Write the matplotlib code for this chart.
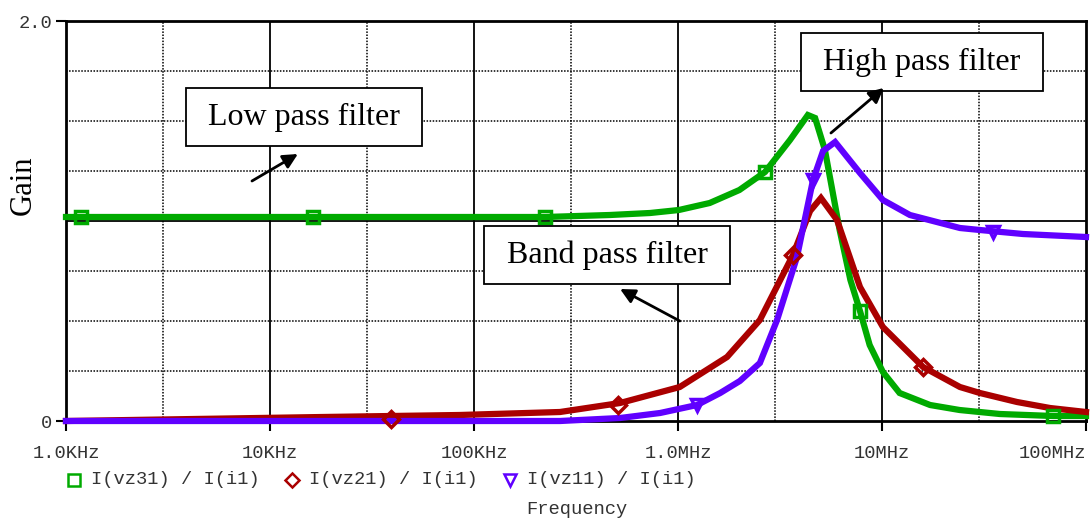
import numpy as np
import matplotlib.pyplot as plt
from matplotlib.lines import Line2D
from matplotlib.ticker import NullLocator

# traces: frequency (Hz) / gain
green_f = [1e3, 2.23e5, 4.64e5, 7.3e5, 1.01e6, 1.43e6, 2.0e6, 2.67e6, 3.54e6,
           4.33e6, 4.7e6, 5.25e6, 6.2e6, 7.0e6, 7.8e6, 8.7e6, 1.01e7, 1.22e7,
           1.72e7, 2.4e7, 3.78e7, 6.9e7, 1e8]
green_g = [1.02, 1.02, 1.03, 1.04, 1.055, 1.09, 1.155, 1.245, 1.405,
           1.53, 1.515, 1.355, 0.955, 0.705, 0.55, 0.38, 0.245, 0.14,
           0.08, 0.055, 0.035, 0.025, 0.025]

red_f = [1e3, 1.82e4, 8.5e4, 2.64e5, 5.2e5, 1.02e6, 1.74e6, 2.52e6, 3.66e6,
         4.44e6, 5.02e6, 6.02e6, 7.8e6, 1.01e7, 1.59e7, 2.41e7, 3.02e7,
         4.59e7, 6.66e7, 1e8]
red_g = [0.0, 0.02, 0.03, 0.045, 0.09, 0.17, 0.32, 0.505, 0.83,
         1.05, 1.115, 1.005, 0.67, 0.47, 0.27, 0.17, 0.14,
         0.095, 0.065, 0.045]

blue_f = [1e3, 2.64e5, 5.2e5, 8.17e5, 1.24e6, 1.61e6, 2.01e6, 2.52e6, 3.06e6,
          3.83e6, 4.59e6, 5.14e6, 5.89e6, 7.8e6, 1.01e7, 1.37e7, 2.41e7,
          3.02e7, 4.91e7, 1e8]
blue_g = [0.0, 0.0, 0.015, 0.04, 0.08, 0.14, 0.2, 0.29, 0.505,
          0.82, 1.205, 1.35, 1.395, 1.24, 1.105, 1.03, 0.965,
          0.955, 0.935, 0.92]

# marker positions on each trace
green_mk_f = [1.185e3, 1.63e4, 2.23e5, 2.67e6, 7.8e6, 6.9e7]
green_mk_g = [1.02, 1.02, 1.02, 1.245, 0.55, 0.025]
red_mk_f = [3.9e4, 5.1e5, 3.66e6, 1.59e7]
red_mk_g = [0.01, 0.08, 0.83, 0.27]
blue_mk_f = [1.24e6, 4.59e6, 3.5e7]
blue_mk_g = [0.08, 1.205, 0.945]

xtick_vals = [1e3, 1e4, 1e5, 1e6, 1e7, 1e8]
xtick_labels = ['1.0KHz', '10KHz', '100KHz', '1.0MHz', '10MHz', '100MHz']
legend_labels = ['I(vz31) / I(i1)', 'I(vz21) / I(i1)', 'I(vz11) / I(i1)']

GREEN = '#00aa00'
RED = '#aa0000'
BLUE = '#6000ff'
MONO = 'Liberation Mono'
SERIF = 'Liberation Serif'

fig = plt.figure(figsize=(10.91, 5.21), dpi=100)
ax = fig.add_axes([66 / 1091, 1 - 421 / 521, 1020 / 1091, 400 / 521])
ax.set_xscale('log')
ax.set_xlim(1e3, 1e8)
ax.set_ylim(0, 2)

# grid
for v in [0.25, 0.5, 0.75, 1.25, 1.5, 1.75]:
    ax.axhline(v, color='black', lw=1.1, ls=(0, (1, 1)), zorder=1)
ax.axhline(1.0, color='black', lw=1.3, zorder=1)
for d in [3e3, 3e4, 3e5, 3e6, 3e7]:
    ax.axvline(d, color='black', lw=1.1, ls=(0, (1, 1)), zorder=1)
for d in [1e4, 1e5, 1e6, 1e7]:
    ax.axvline(d, color='black', lw=1.3, zorder=1)

# traces
for f, g, c in [(green_f, green_g, GREEN), (red_f, red_g, RED), (blue_f, blue_g, BLUE)]:
    ax.plot(f, g, color=c, lw=4.5, solid_joinstyle='miter', clip_on=False, zorder=3)
ax.plot(green_mk_f, green_mk_g, ls='none', marker='s', ms=9, mfc='none', mec=GREEN,
        mew=2.5, clip_on=False, zorder=4)
ax.plot(red_mk_f, red_mk_g, ls='none', marker='D', ms=8, mfc='none', mec=RED,
        mew=2.5, clip_on=False, zorder=4)
ax.plot(blue_mk_f, blue_mk_g, ls='none', marker='v', ms=9, mfc='none', mec=BLUE,
        mew=2.5, clip_on=False, zorder=4)

# axes styling
for s in ax.spines.values():
    s.set_linewidth(2)
    s.set_color('black')
ax.set_xticks(xtick_vals)
ax.set_xticklabels(xtick_labels)
ax.xaxis.set_minor_locator(NullLocator())
ax.xaxis.get_majorticklabels()[-1].set_horizontalalignment('right')
ax.set_yticks([0, 2])
ax.set_yticklabels(['0', '2.0'])
ax.tick_params(axis='both', length=7, width=1.5, color='black', labelcolor='#333333',
               labelsize=13.5)
ax.tick_params(axis='x', pad=10)
ax.tick_params(axis='y', pad=3)
for lab in ax.get_xticklabels() + ax.get_yticklabels():
    lab.set_fontfamily(MONO)

ax.set_ylabel('Gain', fontsize=22, fontfamily=SERIF)
ax.yaxis.set_label_coords(-0.028, 0.59)

# annotation boxes with arrows
box = dict(boxstyle='square,pad=0.45', fc='white', ec='black', lw=1.3)
ax.text(1.47e4, 1.52, ' Low pass filter ', fontsize=23, fontfamily=SERIF,
        ha='center', va='center', bbox=box, zorder=5)
ax.text(1.57e7, 1.795, ' High pass filter ', fontsize=23, fontfamily=SERIF,
        ha='center', va='center', bbox=box, zorder=5)
ax.text(4.49e5, 0.83, ' Band pass filter ', fontsize=23, fontfamily=SERIF,
        ha='center', va='center', bbox=box, zorder=5)
arrow = dict(arrowstyle='-|>', color='black', lw=2, mutation_scale=22, shrinkA=0, shrinkB=0)
ax.annotate('', xy=(1.37e4, 1.335), xytext=(8.16e3, 1.2), arrowprops=arrow, zorder=6)
ax.annotate('', xy=(1.02e7, 1.665), xytext=(5.62e6, 1.44), arrowprops=arrow, zorder=6)
ax.annotate('', xy=(5.2e5, 0.66), xytext=(1.02e6, 0.5), arrowprops=arrow, zorder=6)

# legend row below the axis
leg_y = 1 - 480 / 521
for x0, lab, mk, c in zip([74, 292, 510], legend_labels, ['s', 'D', 'v'], [GREEN, RED, BLUE]):
    fig.add_artist(Line2D([x0 / 1091], [leg_y], transform=fig.transFigure, ls='none',
                          marker=mk, ms=8 if mk != 'D' else 7, mfc='none', mec=c, mew=1.8))
    fig.text((x0 + 17) / 1091, leg_y, lab, fontsize=13.5, fontfamily=MONO,
             color='#333333', ha='left', va='center')
fig.text(577 / 1091, 1 - 510 / 521, 'Frequency', fontsize=13.5, fontfamily=MONO,
         color='#333333', ha='center', va='center')

fig.savefig('out.png', dpi=100)
